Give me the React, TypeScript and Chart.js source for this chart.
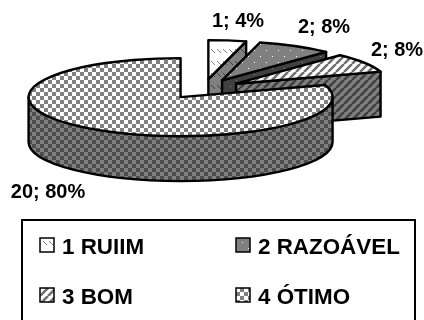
import React, { useEffect, useRef } from "react";
import { Chart, registerables } from "chart.js";

Chart.register(...registerables);

const categories = ["1 RUIIM", "2 RAZOÁVEL", "3 BOM", "4 ÓTIMO"];
const values = [1, 2, 2, 20];
const faceBase = ["#ffffff", "#808080", "#ffffff", "#ffffff"];

const FONT = '"Liberation Sans", Arial, sans-serif';
const W = 424;
const H = 320;
const RADIUS = 152;
const TILT = 39 / 152;
const DEPTH = 45;
const EXPLODE = 38;
const LINE = 2.4;
const labelAnchors = [
  { x: 238, y: 27 },
  { x: 324, y: 33 },
  { x: 397, y: 56 },
  { x: 48, y: 198 },
];
const legendSlots = [
  { x: 40, y: 238 },
  { x: 236, y: 238 },
  { x: 40, y: 288 },
  { x: 236, y: 288 },
];

type Paint = (g: CanvasRenderingContext2D, s: number, a: string, b: string) => void;

const checker: Paint = (g, s, a, b) => {
  g.fillStyle = a;
  g.fillRect(0, 0, s, s);
  g.fillStyle = b;
  g.fillRect(0, 0, s / 2, s / 2);
  g.fillRect(s / 2, s / 2, s / 2, s / 2);
};
const stripes: Paint = (g, s, a, b) => {
  g.fillStyle = a;
  g.fillRect(0, 0, s, s);
  g.strokeStyle = b;
  g.lineWidth = 2.6;
  for (let i = -s; i <= s * 2; i += s) {
    g.beginPath();
    g.moveTo(i, s);
    g.lineTo(i + s, 0);
    g.stroke();
  }
};
const dots: Paint = (g, s, a, b) => {
  g.fillStyle = a;
  g.fillRect(0, 0, s, s);
  g.fillStyle = b;
  g.fillRect(2, 2, 1, 1);
  g.fillRect(2 + s / 2, 2 + s / 2, 1, 1);
};
const dashes: Paint = (g, s, a, b) => {
  g.fillStyle = a;
  g.fillRect(0, 0, s, s);
  g.strokeStyle = b;
  g.lineWidth = 1;
  g.beginPath();
  g.moveTo(1, 1);
  g.lineTo(5, 5);
  g.moveTo(7, 1);
  g.lineTo(11, 5);
  g.stroke();
};

function makePattern(paint: Paint, s: number, a: string, b: string): CanvasPattern {
  const c = document.createElement("canvas");
  c.width = s;
  c.height = s;
  const g = c.getContext("2d")!;
  paint(g, s, a, b);
  return g.createPattern(c, "repeat")!;
}

export default function App() {
  const ref = useRef<HTMLCanvasElement>(null);
  useEffect(() => {
    document.body.style.margin = "0";
    const faces = [
      makePattern(dashes, 12, "#ffffff", "#808080"),
      makePattern(dots, 12, "#808080", "#ffffff"),
      makePattern(stripes, 8, "#ffffff", "#707070"),
      makePattern(checker, 8, "#ffffff", "#808080"),
    ];
    const walls = [
      makePattern(dashes, 12, "#808080", "#404040"),
      makePattern(dots, 12, "#404040", "#808080"),
      makePattern(stripes, 8, "#808080", "#404040"),
      makePattern(checker, 8, "#808080", "#4d4d4d"),
    ];

    const total = values.reduce((s, v) => s + v, 0);

    const pie3d = {
      id: "pie3d",
      beforeDatasetsDraw(chart: any) {
        const ctx: CanvasRenderingContext2D = chart.ctx;
        const arcs = chart.getDatasetMeta(0).data;
        arcs.forEach((arc: any, i: number) => {
          const half = (arc.startAngle + arc.endAngle) / 2;
          const circ = arc.endAngle - arc.startAngle;
          // Chart.js nudges each arc outward by `fix`; the explosion is added on top
          const fix = 1 - Math.sin(Math.min(Math.PI, circ));
          const ex = Math.cos(half) * EXPLODE;
          const ey = Math.sin(half) * EXPLODE;
          const dx = Math.cos(half) * (EXPLODE + fix);
          const dy = Math.sin(half) * (EXPLODE + fix);
          const ax = arc.x + dx;
          const ay = arc.y + TILT * dy;
          const R = arc.outerRadius;
          const rim = (a: number) => ({ x: ax + R * Math.cos(a), y: ay + TILT * R * Math.sin(a) });

          ctx.save();
          ctx.lineWidth = LINE;
          ctx.lineJoin = "round";
          ctx.strokeStyle = "#000";
          ctx.fillStyle = walls[i];

          const edge = (a: number) => {
            const p = rim(a);
            ctx.beginPath();
            ctx.moveTo(ax, ay);
            ctx.lineTo(p.x, p.y);
            ctx.lineTo(p.x, p.y + DEPTH);
            ctx.lineTo(ax, ay + DEPTH);
            ctx.closePath();
            ctx.fill();
            ctx.stroke();
          };
          if (Math.cos(arc.startAngle) < -1e-6) edge(arc.startAngle);
          if (Math.cos(arc.endAngle) > 1e-6) edge(arc.endAngle);

          const a0 = Math.max(arc.startAngle, 0);
          const a1 = Math.min(arc.endAngle, Math.PI);
          if (a1 > a0) {
            ctx.beginPath();
            ctx.ellipse(ax, ay, R, R * TILT, 0, a0, a1);
            ctx.ellipse(ax, ay + DEPTH, R, R * TILT, 0, a1, a0, true);
            ctx.closePath();
            ctx.fill();
            ctx.stroke();
          }
          ctx.restore();

          // the slice itself, drawn by Chart.js, flattened onto the ellipse
          ctx.save();
          ctx.translate(arc.x, arc.y);
          ctx.scale(1, TILT);
          ctx.translate(-arc.x, -arc.y);
          ctx.translate(ex, ey);
          arc.draw(ctx);
          ctx.restore();

          // pattern and outline follow the slice's outline at device resolution
          ctx.save();
          ctx.beginPath();
          ctx.moveTo(ax, ay);
          ctx.ellipse(ax, ay, R, R * TILT, 0, arc.startAngle, arc.endAngle);
          ctx.closePath();
          ctx.fillStyle = faces[i];
          ctx.fill();
          ctx.lineWidth = LINE;
          ctx.lineJoin = "round";
          ctx.strokeStyle = "#000";
          ctx.stroke();
          ctx.restore();
        });
        return false;
      },
      afterDraw(chart: any) {
        const ctx: CanvasRenderingContext2D = chart.ctx;
        ctx.save();
        ctx.fillStyle = "#000";
        ctx.textBaseline = "alphabetic";

        ctx.font = `bold 20px ${FONT}`;
        ctx.textAlign = "center";
        values.forEach((v, i) => {
          const pct = Math.round((v / total) * 100);
          ctx.fillText(`${v}; ${pct}%`, labelAnchors[i].x, labelAnchors[i].y);
        });

        ctx.strokeStyle = "#000";
        ctx.lineWidth = 2;
        ctx.strokeRect(22, 220, 393, 110);

        ctx.textAlign = "left";
        ctx.font = `bold 22.4px ${FONT}`;
        categories.forEach((name, i) => {
          const s = legendSlots[i];
          ctx.fillStyle = faces[i];
          ctx.fillRect(s.x, s.y, 14, 14);
          ctx.lineWidth = 1.5;
          ctx.strokeRect(s.x, s.y, 14, 14);
          ctx.fillStyle = "#000";
          ctx.fillText(name, s.x + 22, s.y + 16);
        });
        ctx.restore();
      },
    };

    const chart = new Chart(ref.current!, {
      type: "pie",
      data: {
        labels: categories,
        datasets: [
          {
            data: values,
            backgroundColor: faceBase,
            borderWidth: 0,
            radius: RADIUS,
          } as any,
        ],
      },
      options: {
        responsive: false,
        animation: false,
        events: [],
        layout: { padding: { left: 0, top: 0, right: 17, bottom: 142 } },
        plugins: { legend: { display: false }, tooltip: { enabled: false } },
      },
      plugins: [pie3d as any],
    });
    return () => chart.destroy();
  }, []);
  return <canvas ref={ref} width={W} height={H} style={{ display: "block" }} />;
}
